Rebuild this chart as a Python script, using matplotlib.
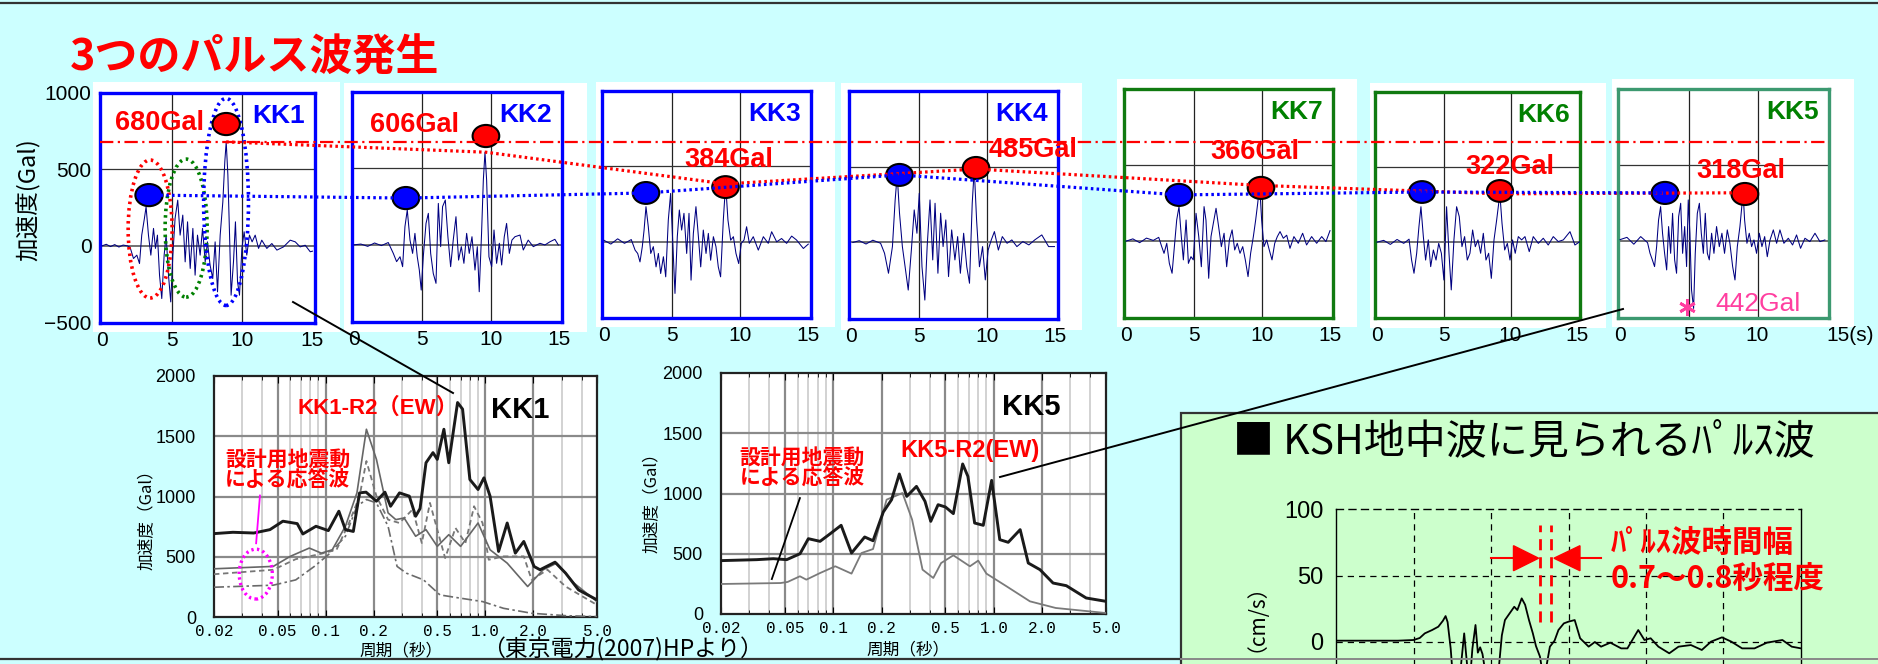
import matplotlib
matplotlib.use('Agg')
import matplotlib.pyplot as plt
from matplotlib.patches import Ellipse, Rectangle
from matplotlib.ticker import FixedLocator, NullFormatter

plt.rcParams['font.family'] = ['Liberation Sans', 'Noto Sans CJK JP', 'DejaVu Sans']
NARROW = ['Liberation Sans Narrow', 'Liberation Sans', 'Noto Sans CJK JP']
JP = ['Noto Sans CJK JP', 'DejaVu Sans']
MONO = ['Liberation Mono', 'DejaVu Sans Mono']

W, H = 1878, 664

# ---------------- data ----------------
stations = ['KK1', 'KK2', 'KK3', 'KK4', 'KK7', 'KK6', 'KK5']
station_colors = ['#0000FF', '#0000FF', '#0000FF', '#0000FF', '#008000', '#008000', '#008000']
frame_colors = ['#0000FF', '#0000FF', '#0000FF', '#0000FF', '#107A10', '#107A10', '#3C9970']
peak_gal = [680, 606, 384, 485, 366, 322, 318]
red_t = [8.86, 9.64, 8.92, 9.18, 9.91, 9.21, 9.08]
red_v = [797, 712, 363, 492, 350, 341, 310]
blue_t = [3.35, 3.79, 3.08, 3.56, 3.89, 3.37, 3.27]
blue_v = [332, 306, 324, 446, 304, 334, 317]
kk5_min = (4.85, -430)
kk5_min_gal = 442

kk1_wave = [(0.0, 0), (0.3, 10), (0.6, -5), (0.9, 8), (1.2, -8), (1.5, 5), (1.8, 0), (2.0, -10),
            (2.24, -83), (2.48, -61), (2.67, -116), (2.83, 70), (3.02, 179), (3.14, 255), (3.31, 70),
            (3.48, -61), (3.67, 114), (3.81, -17), (3.95, 70), (4.10, -192), (4.26, -345), (4.43, -61),
            (4.57, 70), (4.74, -192), (4.90, -367), (5.05, -61), (5.21, 179), (5.40, 299), (5.57, 70),
            (5.76, 201), (5.93, -105), (6.10, 157), (6.29, -148), (6.48, 114), (6.64, -192), (6.81, 70),
            (7.00, -61), (7.17, 114), (7.36, -105), (7.52, 26), (7.71, -127), (7.90, -214), (8.07, 26),
            (8.24, -301), (8.43, 70), (8.62, 288), (8.76, 550), (8.86, 680), (8.98, 463), (9.10, 70),
            (9.21, -323), (9.38, -105), (9.52, 157), (9.67, -236), (9.81, -323), (9.98, -17), (10.14, 92),
            (10.33, -61), (10.52, 70), (10.71, 26), (10.93, 70), (11.17, -17), (11.40, 37), (11.76, -17),
            (12.12, 15), (12.48, -28), (12.95, -7), (13.43, 37), (13.79, 26), (14.14, -7), (14.50, 4),
            (14.86, -39), (15.02, -35)]
kk2_wave = [(0.0, 0), (0.5, 5), (1.0, -10), (1.5, 12), (2.0, -5), (2.5, 15), (2.87, -56), (3.11, -110),
            (3.36, -78), (3.55, -143), (3.72, 119), (3.89, 228), (4.09, 31), (4.28, -56), (4.45, 75),
            (4.62, -78), (4.77, -165), (4.91, -296), (5.06, -78), (5.26, 140), (5.43, 206), (5.60, -56),
            (5.79, -187), (5.99, -252), (6.16, 271), (6.33, -12), (6.47, 250), (6.67, 293), (6.86, 53),
            (7.06, -143), (7.25, 31), (7.45, 184), (7.64, -100), (7.84, -12), (8.03, -121), (8.23, 75),
            (8.42, -56), (8.62, 53), (8.84, -165), (9.01, -12), (9.15, -307), (9.32, 75), (9.45, 424),
            (9.57, 606), (9.69, 424), (9.86, -78), (10.06, -143), (10.23, 97), (10.42, -121), (10.62, 10),
            (10.79, -132), (10.98, 53), (11.15, 140), (11.35, -56), (11.54, 31), (11.76, 53), (12.13, 64),
            (12.37, -34), (12.73, 31), (13.10, -12), (13.59, 10), (13.95, -1), (14.32, 20), (14.68, 36),
            (14.93, -1)]
kk3_wave = [(0.0, 10), (0.5, -15), (1.0, 20), (1.5, -10), (2.0, 15), (2.28, -55), (2.47, -77), (2.64, -133),
            (2.81, -32), (2.94, 78), (3.08, 233), (3.25, 100), (3.43, -77), (3.62, -32), (3.82, -166),
            (3.99, -77), (4.16, -210), (4.36, -99), (4.53, -232), (4.72, 145), (4.89, 321), (5.04, 11),
            (5.21, -342), (5.38, 34), (5.53, 211), (5.70, 78), (5.87, 189), (6.07, -77), (6.24, 189),
            (6.39, -254), (6.56, 56), (6.75, 233), (6.93, 34), (7.10, -166), (7.29, 78), (7.49, -77),
            (7.66, 56), (7.83, -122), (8.03, 34), (8.22, -32), (8.39, -166), (8.56, -232), (8.76, 145),
            (8.93, 384), (9.10, 145), (9.30, 11), (9.50, 34), (9.69, -77), (9.89, -144), (10.08, -10),
            (10.28, 12), (10.47, 100), (10.67, -10), (10.96, 34), (11.33, -55), (11.70, 34), (12.06, -10),
            (12.31, 67), (12.68, 0), (13.04, 22), (13.41, -10), (13.78, 38), (14.14, 12), (14.64, -44),
            (15.0, -15)]
kk4_wave = [(0.13, 0), (0.6, 12), (1.1, -10), (1.6, 15), (2.17, -5), (2.46, -71), (2.75, -203), (3.04, -27),
            (3.24, 281), (3.39, 446), (3.56, 193), (3.77, -27), (3.97, -160), (4.20, -314), (4.43, -50),
            (4.64, 215), (4.84, 61), (5.01, 325), (5.21, -160), (5.42, -380), (5.59, -27), (5.80, 281),
            (6.00, -115), (6.17, 259), (6.38, -203), (6.58, 193), (6.76, -27), (6.96, 149), (7.16, -225),
            (7.39, 83), (7.63, -115), (7.83, 39), (8.03, -203), (8.27, 61), (8.50, -160), (8.70, -269),
            (8.90, 259), (9.05, 485), (9.22, 149), (9.43, -160), (9.66, -27), (9.86, -247), (10.07, -50),
            (10.30, 17), (10.53, 72), (10.82, -50), (11.11, 39), (11.46, -5), (11.81, 17), (12.18, -27),
            (12.62, 6), (13.06, -16), (13.49, 17), (14.01, 50), (14.51, -27), (14.94, -27)]
kk7_wave = [(0.0, 0), (0.5, 15), (1.0, -10), (1.5, 20), (2.0, 5), (2.4, 25), (2.62, -36), (2.79, -80),
            (2.99, -14), (3.18, -146), (3.38, -211), (3.55, -36), (3.72, 139), (3.89, 227), (4.06, 30),
            (4.21, -123), (4.41, 139), (4.58, -146), (4.77, -102), (4.94, -123), (5.14, 183), (5.34, 30),
            (5.53, -168), (5.73, 227), (5.87, 139), (6.07, -244), (6.24, 30), (6.41, 117), (6.61, 216),
            (6.80, 95), (7.00, -36), (7.20, 52), (7.39, -168), (7.59, 8), (7.79, 74), (7.98, -58),
            (8.17, -14), (8.37, -80), (8.57, -36), (8.76, -123), (8.96, -233), (9.15, -80), (9.35, 30),
            (9.52, 139), (9.67, 249), (9.81, 366), (9.96, 139), (10.13, -36), (10.33, 8), (10.52, -58),
            (10.72, -123), (10.92, -14), (11.11, 30), (11.31, 63), (11.55, 19), (11.80, 39), (12.04, -47),
            (12.33, 30), (12.65, -14), (12.97, 52), (13.26, -25), (13.63, 30), (14.00, -14), (14.37, 30),
            (14.68, -3), (14.98, 69)]
kk6_wave = [(0.0, 0), (0.5, 12), (1.0, -15), (1.5, 18), (2.0, -8), (2.4, 20), (2.59, -119), (2.77, -207),
            (2.97, -74), (3.14, 103), (3.29, 236), (3.47, 37), (3.64, -119), (3.84, 15), (4.02, -163),
            (4.22, -52), (4.42, -119), (4.62, -8), (4.82, -74), (5.01, -252), (5.21, 236), (5.39, -74),
            (5.56, -318), (5.76, 15), (5.96, 236), (6.16, 170), (6.36, -30), (6.56, 37), (6.76, -119),
            (6.96, -74), (7.16, 81), (7.36, -30), (7.56, 15), (7.76, -74), (7.96, 59), (8.16, -119),
            (8.36, -74), (8.56, -241), (8.76, 15), (8.96, 148), (9.20, 322), (9.36, 126), (9.56, -52),
            (9.76, -8), (9.96, -119), (10.15, 15), (10.35, -74), (10.58, 37), (10.83, 15), (11.08, 37),
            (11.40, -63), (11.70, 37), (12.08, -8), (12.45, 26), (12.82, -19), (13.20, 37), (13.57, 4),
            (13.95, 15), (14.45, 70), (14.82, -19), (15.2, 4)]
kk5_wave = [(0.0, 10), (0.5, 25), (1.0, -20), (1.5, 30), (2.0, -10), (2.18, -80), (2.35, -123), (2.51, -167),
            (2.66, -36), (2.80, 139), (2.95, 227), (3.09, 52), (3.24, -80), (3.39, -189), (3.53, 96),
            (3.68, -80), (3.82, 183), (3.97, -123), (4.11, -211), (4.26, 161), (4.41, 249), (4.55, -80),
            (4.70, 96), (4.84, -167), (4.96, 271), (5.08, 52), (5.20, -321), (5.35, -442), (5.47, -80),
            (5.62, 183), (5.77, 249), (5.91, 52), (6.06, -80), (6.20, 183), (6.35, -80), (6.49, -123),
            (6.66, 52), (6.83, -80), (7.02, 96), (7.22, -36), (7.41, 52), (7.60, -80), (7.80, 74),
            (7.99, -14), (8.19, -167), (8.36, -255), (8.53, -36), (8.72, 96), (8.95, 318), (9.06, 139),
            (9.23, -14), (9.40, 52), (9.57, -36), (9.74, 8), (9.93, -80), (10.13, 52), (10.32, -36),
            (10.52, 30), (10.71, -102), (10.91, 8), (11.15, 74), (11.39, -14), (11.63, 74), (11.92, -14),
            (12.24, 19), (12.55, -25), (12.84, 41), (13.13, -47), (13.45, 19), (13.81, -3), (14.18, 52),
            (14.54, -3), (14.90, 8)]
waves = [kk1_wave, kk2_wave, kk3_wave, kk4_wave, kk7_wave, kk6_wave, kk5_wave]

# response spectra (period s, acceleration Gal)
period_ticks = [0.02, 0.05, 0.1, 0.2, 0.5, 1.0, 2.0, 5.0]
period_labels = ['0.02', '0.05', '0.1', '0.2', '0.5', '1.0', '2.0', '5.0']
kk1_obs = [(0.02, 692), (0.0263, 703), (0.0355, 697), (0.0448, 725), (0.054, 795), (0.0664, 775),
           (0.072, 689), (0.087, 753), (0.104, 717), (0.121, 878), (0.133, 725), (0.149, 710),
           (0.163, 1030), (0.179, 1036), (0.208, 961), (0.235, 1036), (0.255, 919), (0.29, 1030),
           (0.334, 1003), (0.366, 836), (0.39, 900), (0.425, 1280), (0.47, 1364), (0.50, 1308),
           (0.55, 1558), (0.59, 1280), (0.67, 1780), (0.72, 1725), (0.80, 1141), (0.90, 1058),
           (0.98, 1155), (1.07, 1003), (1.21, 544), (1.37, 780), (1.54, 530), (1.74, 627), (2.02, 419),
           (2.20, 392), (2.73, 455), (3.18, 364), (3.83, 225), (5.0, 142)]
kk1_design_a = [(0.02, 400), (0.047, 420), (0.06, 503), (0.079, 572), (0.094, 530), (0.11, 558),
                (0.133, 753), (0.157, 1030), (0.18, 1558), (0.208, 1308), (0.246, 864), (0.275, 808),
                (0.31, 822), (0.366, 670), (0.425, 725), (0.50, 586), (0.59, 683), (0.70, 586), (0.90, 780),
                (1.07, 558), (1.37, 447), (1.84, 253), (2.3, 392), (2.8, 447), (3.6, 280), (5.0, 128)]
kk1_design_b = [(0.02, 355), (0.047, 392), (0.065, 480), (0.079, 503), (0.094, 525), (0.117, 558),
                (0.14, 780), (0.163, 1003), (0.18, 1294), (0.208, 1003), (0.246, 808), (0.29, 780),
                (0.35, 892), (0.40, 614), (0.45, 947), (0.50, 725), (0.56, 489), (0.65, 739), (0.75, 614),
                (0.85, 919), (0.96, 780), (1.05, 475), (1.3, 503), (1.74, 503), (1.95, 308), (2.45, 392),
                (3.18, 253), (5.0, 100)]
kk1_design_c = [(0.02, 247), (0.047, 264), (0.065, 308), (0.085, 420), (0.104, 517), (0.133, 670),
                (0.157, 919), (0.18, 975), (0.208, 947), (0.246, 753), (0.28, 420), (0.32, 364),
                (0.41, 308), (0.52, 183), (0.70, 156), (0.96, 128), (1.3, 72), (1.95, 31), (3.18, 11),
                (5.0, 3)]
kk5_obs = [(0.02, 443), (0.0334, 451), (0.0424, 459), (0.0513, 451), (0.0621, 500), (0.070, 625),
           (0.0828, 603), (0.0953, 664), (0.112, 736), (0.13, 506), (0.157, 639), (0.177, 608),
           (0.205, 846), (0.231, 949), (0.258, 1162), (0.287, 976), (0.33, 1059), (0.373, 935),
           (0.405, 769), (0.45, 907), (0.50, 888), (0.56, 833), (0.64, 1245), (0.69, 1142), (0.76, 755),
           (0.86, 736), (0.97, 1109), (1.09, 617), (1.23, 595), (1.46, 700), (1.64, 423), (1.94, 368),
           (2.34, 257), (2.83, 235), (3.76, 133), (5.0, 105)]
kk5_design = [(0.02, 249), (0.047, 257), (0.052, 266), (0.062, 313), (0.068, 285), (0.0828, 340),
              (0.103, 396), (0.13, 335), (0.15, 506), (0.177, 539), (0.215, 949), (0.27, 1004),
              (0.31, 783), (0.36, 368), (0.42, 299), (0.47, 423), (0.56, 487), (0.71, 396), (0.80, 443),
              (0.90, 335), (1.20, 230), (1.68, 105), (2.43, 50), (5.0, 8)]

# KSH borehole velocity (s, cm/s)
ksh_wave = [(0, 1), (2, 1), (4, 1), (5.0, 1.5), (5.4, 3), (5.73, 6.5), (6.2, 9), (6.6, 11.5), (6.9, 16),
            (7.07, 19.5), (7.2, 15), (7.4, -5), (7.56, -30), (7.8, -45), (8.0, -25), (8.27, 6.5),
            (8.4, -10), (8.6, -35), (8.8, -5), (9.0, 12.8), (9.15, -8), (9.3, -4), (9.45, -9), (9.6, -20),
            (9.9, -35), (10.2, -55), (10.5, -20), (10.7, 5), (10.9, 16.5), (11.2, 21.5), (11.5, 26.5),
            (11.7, 24), (11.98, 32.8), (12.2, 28), (12.45, 16.5), (12.7, 6.5), (12.9, -3), (13.16, -11),
            (13.35, -25), (13.55, -20), (13.8, -3.5), (14.1, 1), (14.35, 9), (14.7, 14), (15.0, 15.3),
            (15.4, 16.5), (15.75, 2.8), (16.3, -3.5), (16.7, 0), (17.1, -3.5), (17.7, -0.5), (18.4, -4.8),
            (18.8, -4.8), (19.5, 9), (19.9, 1.5), (20.3, 2.8), (20.8, -3.5), (21.5, -8.5), (22.1, -3.5),
            (22.9, -2.3), (23.6, -6), (24.2, 0.3), (24.9, 3.5), (25.5, 0.3), (26.2, -4.8), (27.0, -4.8),
            (27.8, -0.5), (28.8, 1.5), (29.4, -3.5), (30, -4.8)]
pulse_window = [13.16, 13.87]

# ---------------- layout (pixels, top-left origin) ----------------
panel_box = [(100, 93, 315, 323), (352, 92, 562, 322), (602, 91, 811, 318), (849, 91, 1058, 319),
             (1124, 89, 1333, 318), (1375, 92, 1580, 318), (1618, 89, 1829, 318)]
panel_bg = [(93, 82, 340, 332), (344, 83, 587, 332), (596, 82, 835, 327), (841, 83, 1082, 330),
            (1117, 79, 1357, 327), (1370, 83, 1606, 328), (1612, 79, 1854, 327)]
gal_label_at = [(0.92, 804), (1.16, 784), (5.87, 542), (10.13, 611), (6.17, 586), (6.59, 501), (5.52, 461)]
pulse_ovals = [(3.43, 110, 3.14, 903, '#FF0000'), (6.0, 116, 3.0, 903, '#008000'),
               (8.85, 287, 3.2, 1355, '#0000FF')]


def box(x0, y0, x1, y1):
    return [x0 / W, 1 - y1 / H, (x1 - x0) / W, (y1 - y0) / H]


def to_px(ax, x, y):
    dx, dy = ax.transData.transform((x, y))
    return dx, H - dy


fig = plt.figure(figsize=(W / 100, H / 100), dpi=100, facecolor='#CCFFFF')

bg = fig.add_axes([0, 0, 1, 1], zorder=0)
bg.set_xlim(0, W)
bg.set_ylim(H, 0)
bg.axis('off')
top = fig.add_axes([0, 0, 1, 1], zorder=10)
top.set_xlim(0, W)
top.set_ylim(H, 0)
top.axis('off')

top.text(70, 58, '3つのパルス波発生', color='#FF0000', fontsize=31, fontweight='bold',
         family=JP, va='center')
top.text(29, 200, '加速度(Gal)', rotation=90, ha='center', va='center', fontsize=17, family=JP)

# ---- acceleration panels ----
axes = []
for i, name in enumerate(stations):
    x0, y0, x1, y1 = panel_bg[i]
    bg.add_patch(Rectangle((x0, y0), x1 - x0, y1 - y0, fc='white', ec='none'))
    ax = fig.add_axes(box(*panel_box[i]), zorder=2)
    ax.set_xlim(-0.15, 15.2)
    ax.set_ylim(-505, 1000)
    for xv in (5, 10):
        ax.axvline(xv, color='#222222', lw=0.9, zorder=1)
    ax.axhline(500, color='#333333', lw=0.9, zorder=1)
    ax.axhline(0, color='#666666', lw=1.3, zorder=1)
    wt = [p[0] for p in waves[i]]
    wv = [p[1] for p in waves[i]]
    ax.plot(wt, wv, color='#000080', lw=0.75, zorder=3)
    ax.add_patch(Ellipse((blue_t[i], blue_v[i]), 1.95, 145, fc='#0000FF', ec='black', lw=1.5,
                         zorder=6, clip_on=False))
    ax.add_patch(Ellipse((red_t[i], red_v[i]), 1.95, 145, fc='#FF0000', ec='black', lw=1.5,
                         zorder=6, clip_on=False))
    ax.text(0.953, 0.9, name, transform=ax.transAxes, ha='right', va='center',
            color=station_colors[i], fontsize=19, fontweight='bold')
    lx, ly = gal_label_at[i]
    ax.text(lx, ly, f'{peak_gal[i]}Gal', color='#FF0000', fontsize=19.5, fontweight='bold',
            va='center', zorder=7, clip_on=False)
    for s in ax.spines.values():
        s.set_color(frame_colors[i])
        s.set_linewidth(2.4)
    ax.set_xticks([0, 5, 10, 15])
    ax.set_xticklabels(['0', '5', '10', '15'])
    ax.tick_params(length=0, labelsize=15, pad=6)
    if i == 0:
        ax.set_yticks([-500, 0, 500, 1000])
        ax.set_yticklabels(['−500', '0', '500', '1000'])
        for (cx, cy, ew, eh, col) in pulse_ovals:
            ax.add_patch(Ellipse((cx, cy), ew, eh, fill=False, ec=col, lw=2.6,
                                 ls=(0, (0.7, 1.1)), zorder=5, clip_on=False))
    else:
        ax.set_yticks([])
    axes.append(ax)

lab = axes[-1].get_xticklabels()
lab[-1].set_text('15(s)')
axes[-1].set_xticklabels([t.get_text() for t in lab])
axes[-1].get_xticklabels()[-1].set_horizontalalignment('left')

kk5_ax = axes[-1]
kk5_ax.plot([kk5_min[0]], [kk5_min[1]], marker=(6, 2, 0), ms=12, mew=2, color='#FF3FA0', zorder=7)
kk5_ax.text(6.95, -415, f'{kk5_min_gal}Gal', color='#FF3FA0', fontsize=19, va='center')

# connecting lines across the panels
y680 = to_px(axes[0], 0, peak_gal[0])[1]
x_left = to_px(axes[0], -0.15, 0)[0]
x_right = to_px(axes[-1], 15.2, 0)[0]
top.plot([x_left, x_right], [y680, y680], color='#FF0000', lw=1.6, ls=(0, (6, 2, 1, 2)))
rp = [to_px(axes[i], red_t[i], peak_gal[i]) for i in range(len(stations))]
bp = [to_px(axes[i], blue_t[i], blue_v[i]) for i in range(len(stations))]
top.plot([p[0] for p in rp], [p[1] for p in rp], color='#FF0000', lw=2.3, ls=(0, (0.8, 1.0)))
top.plot([p[0] for p in bp], [p[1] for p in bp], color='#0000FF', lw=2.3, ls=(0, (0.8, 1.0)))


# ---- response spectra ----
def spectrum_panel(rect, ylab_xy, xlab_xy):
    ax = fig.add_axes(box(*rect), zorder=2)
    ax.set_facecolor('white')
    ax.set_xscale('log')
    ax.set_xlim(0.02, 5.0)
    ax.set_ylim(0, 2000)
    minor_T = [m * d for d in (0.01, 0.1, 1.0) for m in range(2, 10)]
    minor_T = [x for x in minor_T if 0.0201 < x < 4.99 and round(x, 3) not in (0.05, 0.2, 0.5, 2.0)]
    for xv in minor_T:
        ax.axvline(xv, color='#d2d2d2', lw=1.4, zorder=1)
    for xv in (0.05, 0.1, 0.2, 0.5, 1.0, 2.0):
        ax.axvline(xv, color='#8a8a8a', lw=1.6, zorder=1)
    for yv in (500, 1000, 1500):
        ax.axhline(yv, color='#8a8a8a', lw=1.6, zorder=1)
    ax.set_xticks(period_ticks)
    ax.set_xticklabels(period_labels, family=MONO)
    ax.xaxis.set_minor_locator(FixedLocator(minor_T))
    ax.xaxis.set_minor_formatter(NullFormatter())
    ax.set_yticks([0, 500, 1000, 1500, 2000])
    ax.tick_params(axis='x', which='both', direction='in', top=True, labelsize=11.5, pad=5)
    ax.tick_params(axis='x', which='major', length=5)
    ax.tick_params(axis='x', which='minor', length=3)
    ax.tick_params(axis='y', length=0, labelsize=13, pad=13)
    for s in ax.spines.values():
        s.set_linewidth(1.6)
        s.set_color('#222222')
    ax.set_ylabel('加速度（Gal）', family=JP, fontsize=12)
    ax.yaxis.set_label_coords(*ylab_xy)
    ax.set_xlabel('周期（秒）', family=JP, fontsize=12)
    ax.xaxis.set_label_coords(*xlab_xy)
    return ax


sp1 = spectrum_panel((214, 376, 597, 617), (-0.152, 0.42), (0.487, -0.107))
for series, kw in [(kk1_design_c, dict(color='#6a6a6a', lw=1.2, ls=(0, (6, 2, 1.5, 2)))),
                   (kk1_design_b, dict(color='#777777', lw=1.3, ls=(0, (3, 2)))),
                   (kk1_design_a, dict(color='#666666', lw=1.2)),
                   (kk1_obs, dict(color='#1a1a1a', lw=2.1))]:
    sp1.plot([p[0] for p in series], [p[1] for p in series], zorder=4, **kw)
sp1.text(0.217, 0.868, 'KK1-R2（EW）', transform=sp1.transAxes, color='#FF0000', fontsize=16,
         fontweight='bold', family=NARROW, va='center')
sp1.text(0.723, 0.86, 'KK1', transform=sp1.transAxes, color='black', fontsize=21,
         fontweight='bold', family=NARROW, va='center')
sp1.text(0.029, 0.649, '設計用地震動', transform=sp1.transAxes, color='#FF0000', fontsize=15,
         fontweight='bold', family=JP, va='center')
sp1.text(0.029, 0.566, 'による応答波', transform=sp1.transAxes, color='#FF0000', fontsize=15,
         fontweight='bold', family=JP, va='center')
sp1.plot([0.120, 0.110], [0.504, 0.306], transform=sp1.transAxes, color='#FF00FF', lw=1.3, zorder=6)
sp1.add_patch(Ellipse((0.109, 0.178), 0.0864, 0.207, transform=sp1.transAxes, fill=False,
                      ec='#FF00FF', lw=2.4, ls=(0, (0.7, 1.0)), zorder=6))

sp2 = spectrum_panel((721, 373, 1106, 614), (-0.156, 0.48), (0.486, -0.112))
sp2.plot([p[0] for p in kk5_design], [p[1] for p in kk5_design], color='#7a7a7a', lw=1.3, zorder=4)
sp2.plot([p[0] for p in kk5_obs], [p[1] for p in kk5_obs], color='#1a1a1a', lw=2.1, zorder=5)
sp2.text(0.730, 0.859, 'KK5', transform=sp2.transAxes, color='black', fontsize=21,
         fontweight='bold', family=NARROW, va='center')
sp2.text(0.465, 0.680, 'KK5-R2(EW)', transform=sp2.transAxes, color='#FF0000', fontsize=17,
         fontweight='bold', family=NARROW, va='center')
sp2.text(0.049, 0.647, '設計用地震動', transform=sp2.transAxes, color='#FF0000', fontsize=15,
         fontweight='bold', family=JP, va='center')
sp2.text(0.049, 0.564, 'による応答波', transform=sp2.transAxes, color='#FF0000', fontsize=15,
         fontweight='bold', family=JP, va='center')
sp2.plot([0.205, 0.132], [0.481, 0.145], transform=sp2.transAxes, color='black', lw=1.3, zorder=6)

top.text(482, 649, '（東京電力(2007)HPより）', fontsize=16.5, family=JP, va='center')

# ---- KSH borehole box ----
bg.add_patch(Rectangle((1181, 413), 760, 320, fc='#CCFFCC', ec='#333333', lw=1.6))
top.text(1233, 442, '■ KSH地中波に見られるﾊﾟﾙｽ波', fontsize=29.5, family=JP, va='center')

axv = fig.add_axes(box(1336, 509, 1801, 775), zorder=3)
axv.patch.set_alpha(0)
axv.set_xlim(0, 30)
axv.set_ylim(-100, 100)
for xv in (5, 10, 15, 20, 25):
    axv.axvline(xv, color='black', lw=0.9, ls=(0, (5, 4)), zorder=1)
for yv in (0, 50):
    axv.axhline(yv, color='black', lw=0.9, ls=(0, (5, 4)), zorder=1)
axv.spines['top'].set_linestyle((0, (5, 4)))
axv.spines['bottom'].set_visible(False)
for s in ('left', 'right', 'top'):
    axv.spines[s].set_linewidth(1.0)
axv.plot([p[0] for p in ksh_wave], [p[1] for p in ksh_wave], color='black', lw=1.3, zorder=3)
axv.set_xticks([])
axv.set_yticks([0, 50, 100])
axv.tick_params(axis='y', length=0, labelsize=17, pad=9)
for t in axv.get_yticklabels():
    t.set_family(NARROW)
axv.set_ylabel('（cm/s）', family=JP, fontsize=15)
axv.yaxis.set_label_coords(-0.172, 0.632)
axv.vlines(pulse_window, 15, 88, colors='#FF0000', lw=2, linestyles=(0, (4, 2.5)), zorder=4)
axv.plot([10.0, 11.5], [63, 63], color='#FF0000', lw=1.5, zorder=4)
axv.fill([11.45, 13.07, 11.45], [72.4, 63, 53.6], color='#FF0000', zorder=4)
axv.fill([15.74, 14.06, 15.74], [72.4, 63, 53.6], color='#FF0000', zorder=4)
axv.plot([15.7, 17.1], [63, 63], color='#FF0000', lw=1.5, zorder=4)
top.text(1611, 543, 'ﾊﾟﾙｽ波時間幅', color='#FF0000', fontsize=22, fontweight='bold',
         family=JP, va='center')
top.text(1611, 580, '0.7～0.8秒程度', color='#FF0000', fontsize=22, fontweight='bold',
         family=JP, va='center')

# pointer lines and frame lines
top.plot([293, 453], [302, 393], color='black', lw=1.4)
top.plot([1623, 1000], [309, 477], color='black', lw=1.4)
top.plot([0, W], [3, 3], color='#333333', lw=1.6)
top.plot([0, 1181], [659, 659], color='#333333', lw=1.6)
top.plot([1181, W], [659, 659], color='#888888', lw=1.4)

fig.savefig('out.png', dpi=100, facecolor=fig.get_facecolor())
